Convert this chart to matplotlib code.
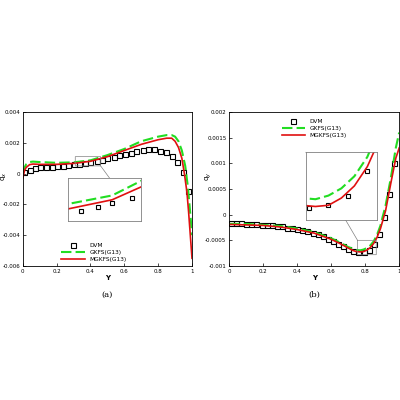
import matplotlib.pyplot as plt
import numpy as np

# (a) qx data
dvm_a_x = [0.005, 0.04, 0.07, 0.10, 0.136, 0.17, 0.20, 0.235, 0.27, 0.30, 0.335, 0.37, 0.40,
           0.44, 0.47, 0.50, 0.54, 0.57, 0.605, 0.64, 0.67, 0.71, 0.74, 0.777, 0.81, 0.846,
           0.88, 0.91, 0.945, 0.976]
dvm_a_y = [0.0001, 0.00025, 0.00035, 0.0004, 0.00043, 0.00045, 0.00048, 0.0005, 0.00055,
           0.0006, 0.00065, 0.0007, 0.00075, 0.00082, 0.0009, 0.001, 0.00105, 0.0012, 0.0013,
           0.00137, 0.0015, 0.00155, 0.0016, 0.0016, 0.0015, 0.0014, 0.00115, 0.00076,
           0.0001, -0.00115]
gk_a_x = [0.0, 0.01, 0.02, 0.04, 0.06, 0.1, 0.2, 0.3, 0.4, 0.5, 0.6, 0.7, 0.8, 0.85, 0.88,
          0.9, 0.92, 0.94, 0.96, 0.975, 0.985, 0.993, 1.0]
gk_a_y = [0.0, 0.0004, 0.0006, 0.00075, 0.00078, 0.00075, 0.0007, 0.00073, 0.00086, 0.0012,
          0.0016, 0.0021, 0.0024, 0.0025, 0.0025, 0.0024, 0.0021, 0.0015, 0.0005, -0.0008,
          -0.002, -0.003, -0.004]
mg_a_x = [0.0, 0.01, 0.02, 0.04, 0.06, 0.1, 0.2, 0.3, 0.4, 0.5, 0.6, 0.7, 0.8, 0.85, 0.88,
          0.9, 0.92, 0.94, 0.955, 0.97, 0.98, 0.99, 1.0]
mg_a_y = [-0.0003, 0.0002, 0.0004, 0.00058, 0.00062, 0.0006, 0.0006, 0.00066, 0.0008,
          0.0011, 0.0015, 0.0019, 0.0022, 0.0023, 0.0023, 0.0021, 0.0017, 0.001, 0.0,
          -0.0012, -0.0025, -0.004, -0.0055]

# (b) qy data
dvm_b_x = [0.01, 0.04, 0.07, 0.10, 0.13, 0.16, 0.19, 0.22, 0.25, 0.28, 0.31, 0.34, 0.37,
           0.40, 0.43, 0.46, 0.49, 0.52, 0.55, 0.58, 0.61, 0.64, 0.67, 0.70, 0.73, 0.76,
           0.79, 0.82, 0.85, 0.88, 0.91, 0.94, 0.97]
dvm_b_y = [-0.00017, -0.00017, -0.00017, -0.00018, -0.00018, -0.00019, -0.0002, -0.0002,
           -0.00021, -0.00022, -0.00023, -0.00025, -0.00026, -0.00028, -0.0003, -0.00032,
           -0.00035, -0.00038, -0.00042, -0.00047, -0.00052, -0.00057, -0.00062, -0.00067,
           -0.00071, -0.00073, -0.00072, -0.00068, -0.00058, -0.00037, -0.00005, 0.0004,
           0.001]
gk_b_x = [0.0, 0.1, 0.2, 0.3, 0.4, 0.5, 0.6, 0.65, 0.7, 0.73, 0.75, 0.77, 0.79, 0.81,
          0.83, 0.85, 0.87, 0.89, 0.92, 0.95, 0.98, 1.0]
gk_b_y = [-0.00018, -0.00018, -0.0002, -0.00022, -0.00027, -0.00034, -0.00046, -0.00054,
          -0.00063, -0.00067, -0.00069, -0.000695, -0.00068, -0.00065, -0.0006, -0.00052,
          -0.00039, -0.00021, 0.00018, 0.0007, 0.0013, 0.0016]
mg_b_x = gk_b_x
mg_b_y = [-0.00019, -0.0002, -0.00021, -0.00024, -0.00029, -0.00036, -0.00048, -0.00056,
          -0.00065, -0.0007, -0.00072, -0.000725, -0.00072, -0.00069, -0.00064, -0.00056,
          -0.00044, -0.00027, 0.00008, 0.0006, 0.0011, 0.0013]

GREEN = "#22dd22"
RED = "#e01010"


def draw(ax, dx, dy, gx, gy, mx, my, ms=3.6):
    ax.plot(dx, dy, "s", mfc="none", mec="black", ms=ms, mew=0.8, label="DVM")
    ax.plot(gx, gy, "--", color=GREEN, lw=1.5, dashes=(5, 2), label="GKFS(G13)")
    ax.plot(mx, my, "-", color=RED, lw=1.2, label="MGKFS(G13)")


def style(ax):
    ax.tick_params(labelsize=4, direction="in", length=2, width=0.5, pad=2)
    for s in ax.spines.values():
        s.set_linewidth(0.6)


fig = plt.figure(figsize=(4, 4), dpi=100)

ax1 = fig.add_axes([0.057, 0.335, 0.423, 0.385])
draw(ax1, dvm_a_x, dvm_a_y, gk_a_x, gk_a_y, mg_a_x, mg_a_y)
ax1.set_xlim(0, 1)
ax1.set_ylim(-0.006, 0.004)
ax1.set_xticks([0, 0.2, 0.4, 0.6, 0.8, 1])
ax1.set_xticklabels(["0", "0.2", "0.4", "0.6", "0.8", "1"])
ax1.set_yticks([-0.006, -0.004, -0.002, 0, 0.002, 0.004])
ax1.set_yticklabels(["-0.006", "-0.004", "-0.002", "0", "0.002", "0.004"])
ax1.set_xlabel("Y", fontsize=5, labelpad=1, fontweight="bold")
fig.text(0.012, 0.56, "q$_x$", fontsize=5, rotation=90, ha="center", va="center")
style(ax1)
ax1.legend(loc="lower center", bbox_to_anchor=(0.42, 0.0), fontsize=4.2, frameon=False,
           handlelength=4, borderaxespad=0.3, labelspacing=0.3)
ax1.text(0.5, -0.2, "(a)", transform=ax1.transAxes, ha="center", fontsize=6,
         family="serif")
ins1 = ax1.inset_axes([0.27, 0.29, 0.43, 0.28])
draw(ins1, dvm_a_x, dvm_a_y, gk_a_x, gk_a_y, mg_a_x, mg_a_y, ms=3)
ins1.set_xlim(0.31, 0.46)
ins1.set_ylim(0.0005, 0.0011)
ins1.set_xticks([])
ins1.set_yticks([])
for s in ins1.spines.values():
    s.set_edgecolor("gray")
    s.set_linewidth(0.6)
rect, lines = ax1.indicate_inset_zoom(ins1, edgecolor="gray", alpha=1, lw=0.5)
for i, ln in enumerate(lines):
    ln.set_visible(i == 2)

ax2 = fig.add_axes([0.573, 0.335, 0.425, 0.385])
draw(ax2, dvm_b_x, dvm_b_y, gk_b_x, gk_b_y, mg_b_x, mg_b_y)
ax2.set_xlim(0, 1)
ax2.set_ylim(-0.001, 0.002)
ax2.set_xticks([0, 0.2, 0.4, 0.6, 0.8, 1])
ax2.set_xticklabels(["0", "0.2", "0.4", "0.6", "0.8", "1"])
ax2.set_yticks([-0.001, -0.0005, 0, 0.0005, 0.001, 0.0015, 0.002])
ax2.set_yticklabels(["-0.001", "-0.0005", "0", "0.0005", "0.001", "0.0015", "0.002"])
ax2.set_xlabel("Y", fontsize=5, labelpad=1, fontweight="bold")
fig.text(0.522, 0.56, "q$_y$", fontsize=5, rotation=90, ha="center", va="center")
style(ax2)
ax2.legend(loc="upper center", bbox_to_anchor=(0.5, 0.98), fontsize=4.2, frameon=False,
           handlelength=4, borderaxespad=0.3, labelspacing=0.3)
ax2.text(0.5, -0.2, "(b)", transform=ax2.transAxes, ha="center", fontsize=6,
         family="serif")
ins2 = ax2.inset_axes([0.45, 0.3, 0.42, 0.44])
draw(ins2, dvm_b_x, dvm_b_y, gk_b_x, gk_b_y, mg_b_x, mg_b_y, ms=3)
ins2.set_xlim(0.755, 0.865)
ins2.set_ylim(-0.00078, -0.0005)
ins2.set_xticks([])
ins2.set_yticks([])
for s in ins2.spines.values():
    s.set_edgecolor("gray")
    s.set_linewidth(0.6)
rect, lines = ax2.indicate_inset_zoom(ins2, edgecolor="gray", alpha=1, lw=0.5)
for i, ln in enumerate(lines):
    ln.set_visible(i == 1)

fig.savefig("out.png", dpi=100)
